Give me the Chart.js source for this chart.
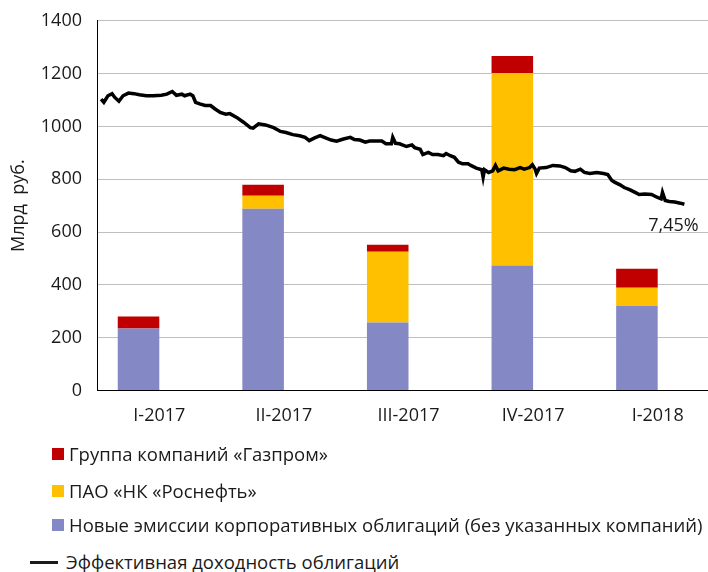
<!DOCTYPE html>
<html>
<head>
<meta charset="utf-8">
<script src="https://cdn.jsdelivr.net/npm/chart.js@4/dist/chart.umd.min.js"></script>
<style>
    html, body { margin: 0; padding: 0; background: #fff; overflow: hidden; }
    body { width: 708px; height: 572px; position: relative; font-family: 'Open Sans', sans-serif; color: #1a1a1a; }
    #wrap { position: absolute; left: 0; top: -5px; width: 720px; height: 447px; }
    .lg { position: absolute; font-size: 18.5px; line-height: 20px; white-space: nowrap; }
    .sq { position: absolute; width: 12px; height: 12px; }
    .ln { position: absolute; height: 3px; background: #1a1a1a; }
</style>
</head>
<body>
<div id="wrap"><canvas id="bonds-chart" width="720" height="447"></canvas></div>

<div class="sq" style="left:52px;top:448px;background:#c00000"></div>
<div class="lg" style="left:69px;top:444px">Группа компаний «Газпром»</div>
<div class="sq" style="left:52px;top:485px;background:#ffc000"></div>
<div class="lg" style="left:69px;top:481px">ПАО «НК «Роснефть»</div>
<div class="sq" style="left:52px;top:519px;background:#8488c4"></div>
<div class="lg" style="left:69px;top:515px">Новые эмиссии корпоративных облигаций (без указанных компаний)</div>
<div class="ln" style="left:30px;top:561px;width:28px"></div>
<div class="lg" style="left:66px;top:552px">Эффективная доходность облигаций</div>

<script>
    'use strict';

    // Quarterly placements, bln rub
    var quarters = ['I-2017', 'II-2017', 'III-2017', 'IV-2017', 'I-2018'];
    var otherIssues = [234, 688, 257, 473, 321];
    var rosneft = [0, 49, 268, 729, 68];
    var gazprom = [46, 42, 27, 65, 72];
    var yTicks = [0, 200, 400, 600, 800, 1000, 1200, 1400];

    // Effective yield, % (day = days since 1 Jan 2017)
    var yieldDays = [3, 5, 8, 11, 13, 16, 19, 23, 27, 31, 36, 41, 47, 51, 55, 58, 62, 64, 68, 70,
        72, 75, 79, 83, 86, 90, 94, 97, 102, 107, 112, 114, 118, 123, 129, 134, 138, 143, 148, 152,
        155, 159, 163, 166, 171, 175, 180, 185, 188, 192, 196, 199, 204, 208, 211, 215, 216, 218, 221, 226,
        230, 232, 236, 238, 242, 245, 249, 253, 255, 258, 261, 264, 267, 271, 273, 277, 281, 282, 283, 286,
        289, 291, 293, 297, 301, 305, 309, 312, 316, 318, 320, 321, 323, 328, 333, 338, 342, 346, 349, 353,
        356, 360, 365, 370, 373, 376, 378, 382, 385, 389, 393, 396, 400, 405, 409, 412, 413, 415, 418, 422,
        426, 429];
    var yieldPct = [9.40, 9.34, 9.46, 9.50, 9.43, 9.36, 9.46, 9.51, 9.50, 9.48, 9.46, 9.46, 9.47, 9.49, 9.54, 9.47, 9.49, 9.46, 9.49, 9.46,
        9.34, 9.31, 9.28, 9.28, 9.22, 9.15, 9.12, 9.13, 9.06, 8.97, 8.87, 8.86, 8.94, 8.92, 8.87, 8.80, 8.78, 8.74, 8.72, 8.69,
        8.63, 8.68, 8.72, 8.69, 8.64, 8.62, 8.66, 8.69, 8.65, 8.64, 8.60, 8.62, 8.62, 8.62, 8.57, 8.57, 8.69, 8.58, 8.57, 8.52,
        8.55, 8.50, 8.47, 8.37, 8.41, 8.37, 8.37, 8.35, 8.39, 8.35, 8.32, 8.23, 8.20, 8.20, 8.17, 8.12, 8.09, 7.95, 8.09, 8.04,
        8.07, 8.17, 8.07, 8.12, 8.10, 8.09, 8.13, 8.10, 8.13, 8.18, 8.10, 8.02, 8.12, 8.13, 8.17, 8.16, 8.13, 8.07, 8.06, 8.10,
        8.04, 8.02, 8.04, 8.02, 8.00, 7.89, 7.86, 7.81, 7.76, 7.72, 7.67, 7.63, 7.64, 7.63, 7.58, 7.55, 7.67, 7.52, 7.50, 7.49,
        7.47, 7.45];
    var lastYieldLabel = '7,45%';

    var textColor = '#1a1a1a';
    var fontFamily = "'Open Sans', sans-serif";

    var yieldPoints = yieldDays.map(function(d, i) {
        return { x: d, y: yieldPct[i] };
    });

    // Label under the end of the yield line
    var endLabelPlugin = {
        id: 'endLabel',
        afterDatasetsDraw: function(chart) {
            var ctx = chart.ctx;
            var xs = chart.scales.xd;
            var ys = chart.scales.yp;
            var n = yieldDays.length - 1;
            ctx.save();
            ctx.font = '18px ' + fontFamily;
            ctx.fillStyle = textColor;
            ctx.textAlign = 'center';
            ctx.textBaseline = 'middle';
            ctx.fillText(lastYieldLabel, xs.getPixelForValue(yieldDays[n]) - 11, ys.getPixelForValue(yieldPct[n]) + 22);
            ctx.restore();
        }
    };

    var barCommon = { categoryPercentage: 0.667, barPercentage: 1, order: 1, xAxisID: 'x', yAxisID: 'y' };

    new Chart(document.getElementById('bonds-chart'), {
        type: 'bar',
        data: {
            labels: quarters,
            datasets: [
                Object.assign({ label: 'Новые эмиссии корпоративных облигаций (без указанных компаний)', data: otherIssues, backgroundColor: '#8488c4' }, barCommon),
                Object.assign({ label: 'ПАО «НК «Роснефть»', data: rosneft, backgroundColor: '#ffc000' }, barCommon),
                Object.assign({ label: 'Группа компаний «Газпром»', data: gazprom, backgroundColor: '#c00000' }, barCommon),
                {
                    type: 'line',
                    label: 'Эффективная доходность облигаций',
                    data: yieldPoints,
                    xAxisID: 'xd',
                    yAxisID: 'yp',
                    borderColor: '#000',
                    borderWidth: 3.5,
                    pointRadius: 0,
                    tension: 0,
                    order: 0
                }
            ]
        },
        options: {
            responsive: false,
            animation: false,
            layout: { padding: { top: 8, right: 0, left: 0, bottom: 0 } },
            plugins: { legend: { display: false }, tooltip: { enabled: false } },
            scales: {
                x: {
                    stacked: true,
                    grid: { display: false, drawTicks: false },
                    border: { color: '#000', width: 1 },
                    ticks: { color: textColor, font: { family: fontFamily, size: 18 }, padding: 15 }
                },
                y: {
                    stacked: true,
                    min: 0,
                    max: 1400,
                    afterBuildTicks: function(scale) {
                        scale.ticks = yTicks.map(function(v) { return { value: v }; });
                    },
                    afterFit: function(scale) { scale.width = 97; },
                    grid: { color: '#bfbfbf', drawTicks: false },
                    border: { color: '#000', width: 1 },
                    ticks: {
                        color: textColor,
                        font: { family: fontFamily, size: 18 },
                        padding: 15,
                        callback: function(v) { return String(v); }
                    },
                    title: { display: true, text: 'Млрд  руб.', color: textColor, font: { family: fontFamily, size: 18 }, padding: { top: 8, bottom: 0 } }
                },
                xd: { type: 'linear', display: false, offset: false, min: 0, max: 455 },
                yp: { type: 'linear', display: false, min: 4, max: 10.85 }
            }
        },
        plugins: [endLabelPlugin]
    });
</script>
</body>
</html>
